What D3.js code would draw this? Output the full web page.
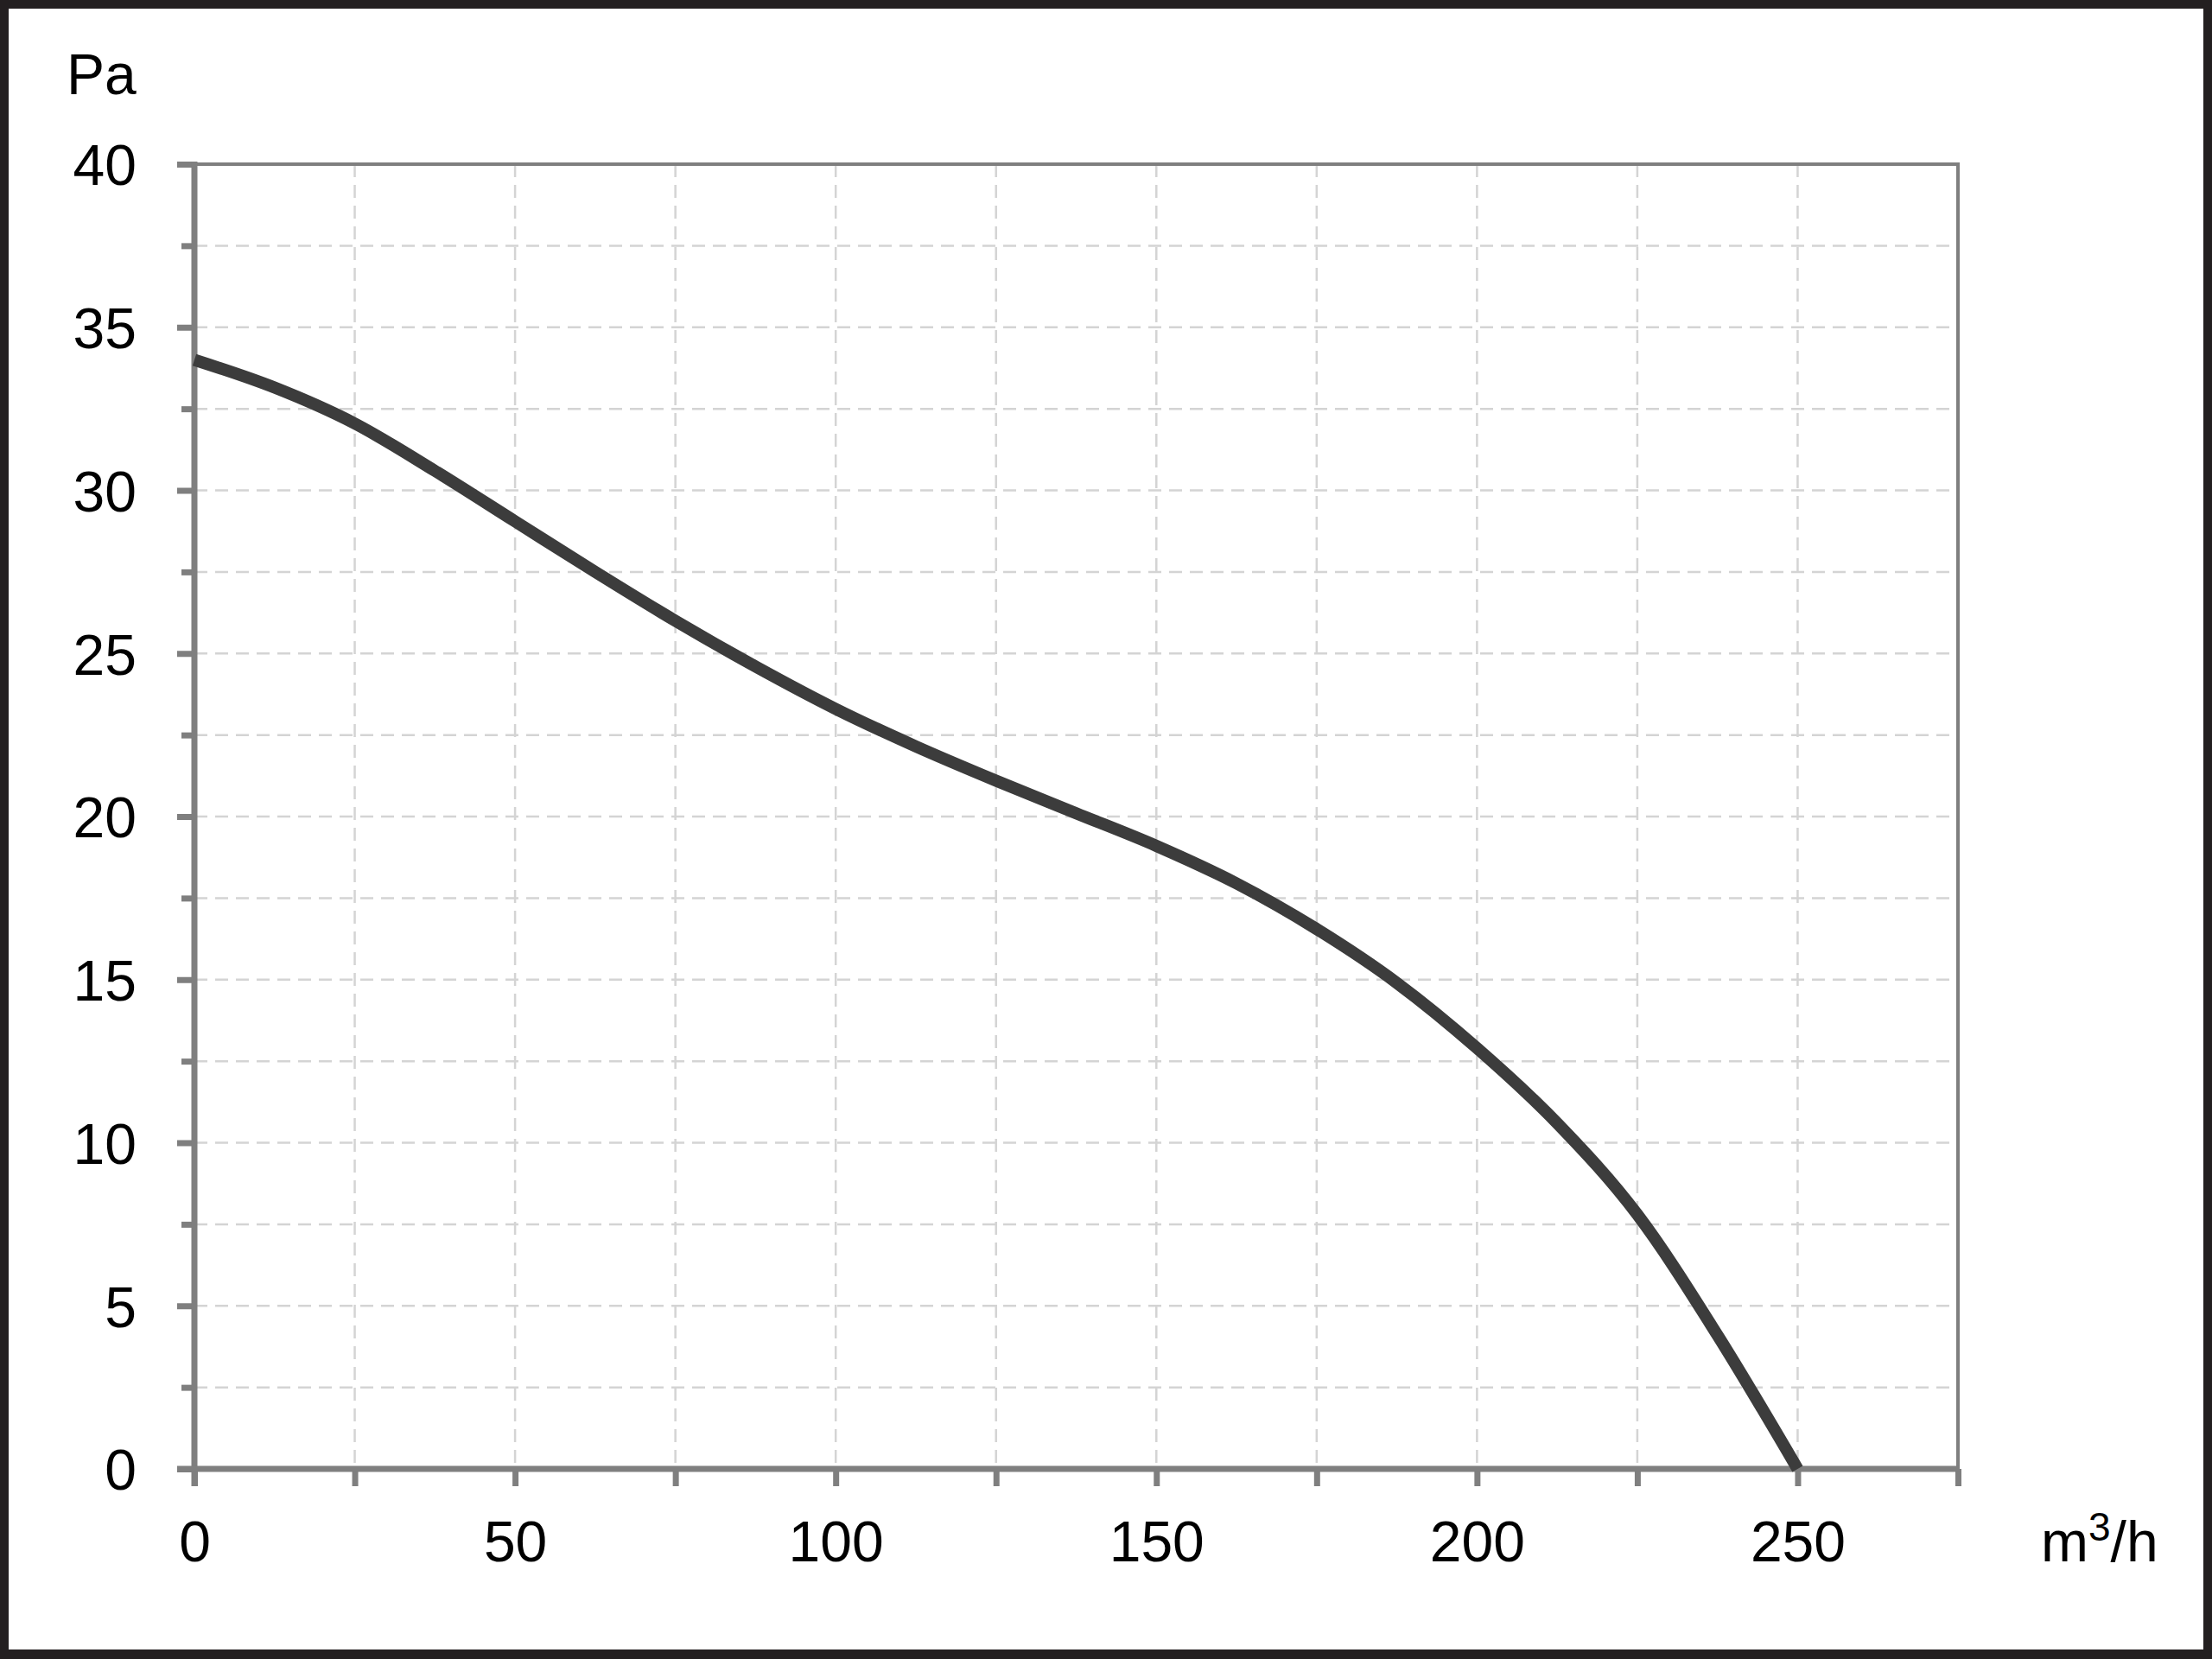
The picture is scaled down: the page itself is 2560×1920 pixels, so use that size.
<!DOCTYPE html>
<html>
<head>
<meta charset="utf-8">
<script src="https://cdn.jsdelivr.net/npm/d3@7"></script>
<style>
  html, body { margin: 0; padding: 0; background: #231f20; }
  svg { display: block; }
  text { font-family: "Liberation Sans", Arial, sans-serif; fill: #000; }
</style>
</head>
<body>
<svg id="chart" width="2560" height="1920"></svg>
<script>
// ---- Data ----
const flow     = [0, 12.5, 25, 37.5, 50, 62.5, 75, 87.5, 100, 112.5, 125, 137.5, 150, 162.5, 175, 187.5, 200, 212.5, 225, 237.5, 250];
const pressure = [34.0, 33.15, 32.05, 30.6, 29.05, 27.5, 26.0, 24.6, 23.3, 22.15, 21.1, 20.1, 19.1, 17.95, 16.55, 14.9, 12.9, 10.6, 7.8, 4.1, 0];
const xTickValues = [0, 25, 50, 75, 100, 125, 150, 175, 200, 225, 250, 275];
const xTickLabels = ["0", "", "50", "", "100", "", "150", "", "200", "", "250", ""];
const yMajorTicks = [0, 5, 10, 15, 20, 25, 30, 35, 40];
const yMinorTicks = [2.5, 7.5, 12.5, 17.5, 22.5, 27.5, 32.5, 37.5];
const xDomain = [0, 275];
const yDomain = [0, 40];
const yUnit = "Pa";
const xUnitBase = "m";
const xUnitSup = "3";
const xUnitTail = "/h";

// ---- Layout ----
const svg = d3.select("#chart");
const W = 2560, H = 1920;
const plot = { left: 225, right: 2266, top: 190, bottom: 1700 };
const axisColor = "#7f7f7f";
const gridColor = "#d4d4d4";
const fontSize = 66;

// Frame
svg.append("rect").attr("x", 0).attr("y", 0).attr("width", W).attr("height", H).attr("fill", "#231f20");
svg.append("rect").attr("x", 10).attr("y", 10).attr("width", W - 20).attr("height", H - 21).attr("fill", "#ffffff");

const x = d3.scaleLinear().domain(xDomain).range([plot.left, plot.right]);
const y = d3.scaleLinear().domain(yDomain).range([plot.bottom, plot.top]);

// Grid
const grid = svg.append("g").attr("stroke", gridColor).attr("stroke-width", 2.5).attr("stroke-dasharray", "15,9");
grid.selectAll("line.v").data(xTickValues.filter(v => v > 0 && v < 275)).join("line")
  .attr("x1", d => x(d)).attr("x2", d => x(d))
  .attr("y1", plot.top).attr("y2", plot.bottom);
grid.selectAll("line.h").data(yMajorTicks.concat(yMinorTicks).filter(v => v > 0 && v < 40)).join("line")
  .attr("x1", plot.left).attr("x2", plot.right)
  .attr("y1", d => y(d)).attr("y2", d => y(d));

// Top and right borders (thin)
svg.append("path")
  .attr("d", `M${plot.left},${plot.top}H${plot.right}V${plot.bottom}`)
  .attr("fill", "none").attr("stroke", axisColor).attr("stroke-width", 4);

// Y axis (major + minor ticks)
const yAxisMajor = d3.axisLeft(y).tickValues(yMajorTicks).tickSize(20).tickPadding(47).tickFormat(d3.format("d"));
const yAxisMinor = d3.axisLeft(y).tickValues(yMinorTicks).tickSize(15).tickFormat("");
const gy = svg.append("g").attr("transform", `translate(${plot.left},0)`).call(yAxisMajor);
const gy2 = svg.append("g").attr("transform", `translate(${plot.left},0)`).call(yAxisMinor);
[gy, gy2].forEach(g => {
  g.select(".domain").remove();
  g.selectAll(".tick line").attr("stroke", axisColor).attr("stroke-width", 7);
});
gy.selectAll(".tick text").attr("font-size", fontSize).attr("font-family", "Liberation Sans, Arial, sans-serif")
  .attr("fill", "#000").attr("dy", "0.36em");

// X axis
const xAxis = d3.axisBottom(x).tickValues(xTickValues).tickSize(20).tickPadding(0)
  .tickFormat((d, i) => xTickLabels[i]);
const gx = svg.append("g").attr("transform", `translate(0,${plot.bottom})`).call(xAxis);
gx.select(".domain").remove();
gx.selectAll(".tick line").attr("stroke", axisColor).attr("stroke-width", 7);
gx.selectAll(".tick text").attr("font-size", fontSize).attr("font-family", "Liberation Sans, Arial, sans-serif")
  .attr("fill", "#000").attr("y", 107).attr("dy", 0);

// Axis lines (thick)
svg.append("line").attr("x1", plot.left).attr("x2", plot.left).attr("y1", plot.top - 3).attr("y2", plot.bottom + 20)
  .attr("stroke", axisColor).attr("stroke-width", 7);
svg.append("line").attr("x1", plot.left - 20).attr("x2", plot.right + 2).attr("y1", plot.bottom).attr("y2", plot.bottom)
  .attr("stroke", axisColor).attr("stroke-width", 7);

// Curve
const pts = flow.map((f, i) => [f, pressure[i]]);
const line = d3.line().x(d => x(d[0])).y(d => y(d[1])).curve(d3.curveMonotoneX);
svg.append("path").datum(pts).attr("d", line)
  .attr("fill", "none").attr("stroke", "#3c3c3c").attr("stroke-width", 14)
  .attr("stroke-linejoin", "round").attr("stroke-linecap", "butt");

// Units
svg.append("text").attr("x", 77).attr("y", 109).attr("font-size", fontSize).text(yUnit);
const ux = svg.append("text").attr("x", 2362).attr("y", 1807).attr("font-size", fontSize);
ux.append("tspan").text(xUnitBase);
ux.append("tspan").attr("font-size", 46).attr("dy", -24).text(xUnitSup);
ux.append("tspan").attr("dy", 24).text(xUnitTail);
</script>
</body>
</html>
